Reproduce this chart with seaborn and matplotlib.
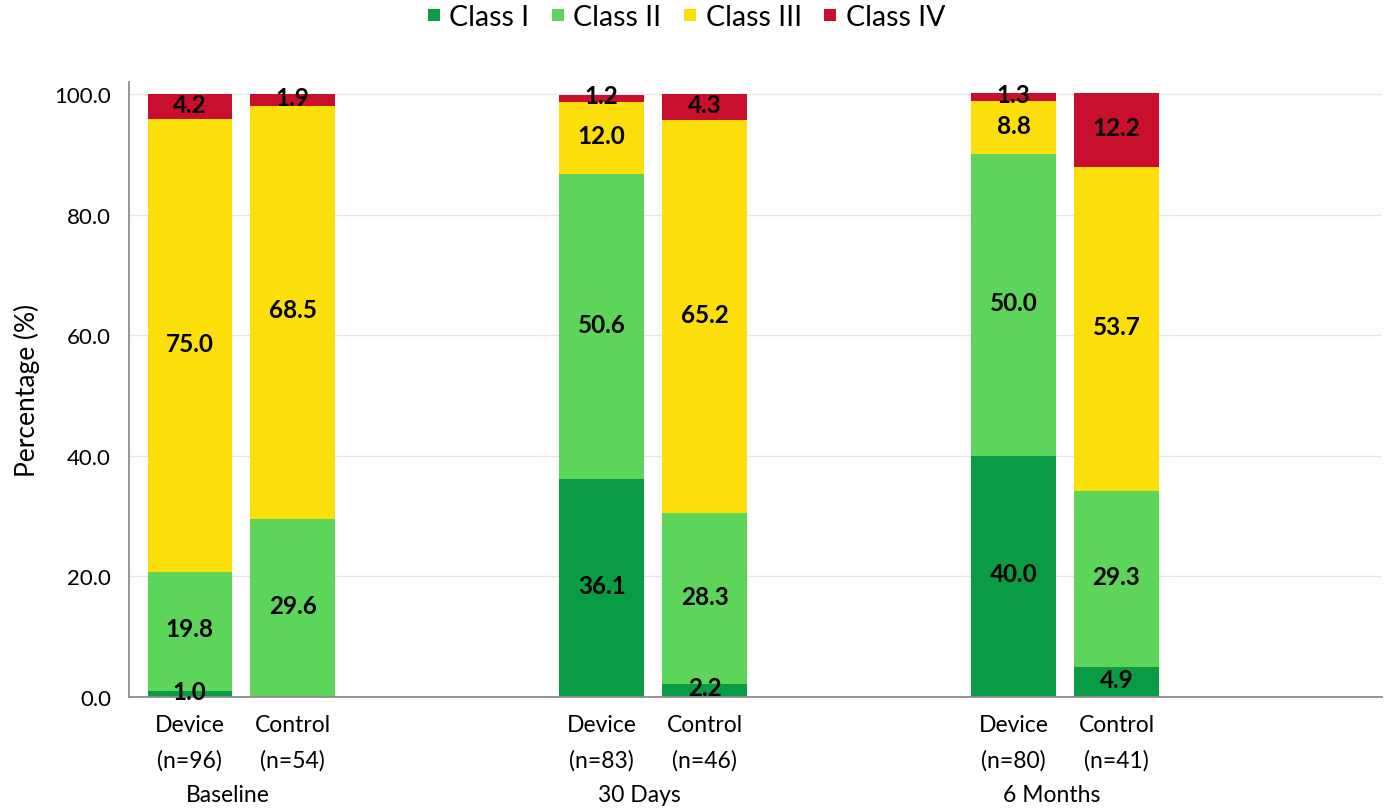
import pandas as pd
import seaborn as sns
import matplotlib.pyplot as plt
from matplotlib.lines import Line2D
from matplotlib.transforms import blended_transform_factory

# ---------------------data--------------------- #
groups = ["Baseline", "30 Days", "6 Months"]
arms = ["Device", "Control"]
n_counts = [96, 54, 83, 46, 80, 41]
classes = ["Class I", "Class II", "Class III", "Class IV"]
class_i = [1.0, 0.0, 36.1, 2.2, 40.0, 4.9]
class_ii = [19.8, 29.6, 50.6, 28.3, 50.0, 29.3]
class_iii = [75.0, 68.5, 12.0, 65.2, 8.8, 53.7]
class_iv = [4.2, 1.9, 1.2, 4.3, 1.3, 12.2]
y_ticks = [0, 20, 40, 60, 80, 100]

colors = {"Class I": "#0A9B45", "Class II": "#5DD45A",
          "Class III": "#FCDE0B", "Class IV": "#C8102E"}

# bar slots: two bars per group, two empty slots between groups
positions = [g * 4 + a for g in range(len(groups)) for a in range(len(arms))]
series = [class_i, class_ii, class_iii, class_iv]

rows = []
for cls, vals in zip(classes, series):
    for pos, v in zip(positions, vals):
        rows.append({"pos": pos, "cls": cls, "pct": v})
df = pd.DataFrame(rows)

# ---------------------canvas--------------------- #
sns.set_theme(style="white")
plt.rcParams["font.family"] = ["Lato", "DejaVu Sans"]
plt.rcParams["text.color"] = "black"
plt.rcParams["axes.labelcolor"] = "black"
plt.rcParams["xtick.color"] = "black"
plt.rcParams["ytick.color"] = "black"

fig = plt.figure(figsize=(13.87, 8.12), dpi=100)
ax = fig.add_axes([0.093, 0.1404, 0.9035, 0.7574])

# seaborn stacks first hue level on top, so reverse the order
sns.histplot(data=df, x="pos", weights="pct", hue="cls",
             hue_order=classes[::-1], multiple="stack", discrete=True,
             shrink=0.82, palette=colors, alpha=1, linewidth=0,
             legend=False, ax=ax)

# data labels
bottoms = [0.0] * len(positions)
for vals in series:
    for i, (pos, v) in enumerate(zip(positions, vals)):
        if v > 0:
            ax.text(pos, bottoms[i] + v / 2 + 0.4, f"{v:.1f}", ha="center",
                    va="center", fontsize=17.5, fontweight="bold", color="black")
        bottoms[i] += v

# axes styling
ax.set_xlim(-0.59, 11.58)
ax.set_ylim(0, 102)
ax.set_yticks(y_ticks)
ax.set_yticklabels([f"{t:.1f}" for t in y_ticks], fontsize=16)
ax.yaxis.grid(True, color="#E6E6E6", linewidth=1)
ax.set_axisbelow(True)
ax.tick_params(axis="both", length=0)
ax.tick_params(axis="y", pad=13)
ax.set_ylabel("Percentage (%)", fontsize=19, labelpad=10)
ax.set_xlabel("")

xlabels = [f"{arms[i % 2]}\n(n={n})" for i, n in enumerate(n_counts)]
ax.set_xticks(positions)
ax.set_xticklabels(xlabels, fontsize=16.5, linespacing=1.85)
ax.tick_params(axis="x", pad=12)

trans = blended_transform_factory(ax.transData, ax.transAxes)
for g, name in enumerate(groups):
    ax.text(g * 4 + 0.37, -0.158, name, transform=trans, ha="center",
            va="center", fontsize=16.5)

for side in ["top", "right"]:
    ax.spines[side].set_visible(False)
for side in ["left", "bottom"]:
    ax.spines[side].set_color("#8C8C8C")
    ax.spines[side].set_linewidth(1.3)

# legend
handles = [Line2D([0], [0], marker="s", linestyle="", markersize=8,
                  markerfacecolor=colors[c], markeredgewidth=0) for c in classes]
fig.legend(handles, classes, loc="upper center", bbox_to_anchor=(0.493, 1.025),
           ncol=4, frameon=False, fontsize=20.5, handletextpad=0.15,
           columnspacing=0.6, handlelength=0.8)

plt.savefig("out.png", dpi=100)
plt.close()
